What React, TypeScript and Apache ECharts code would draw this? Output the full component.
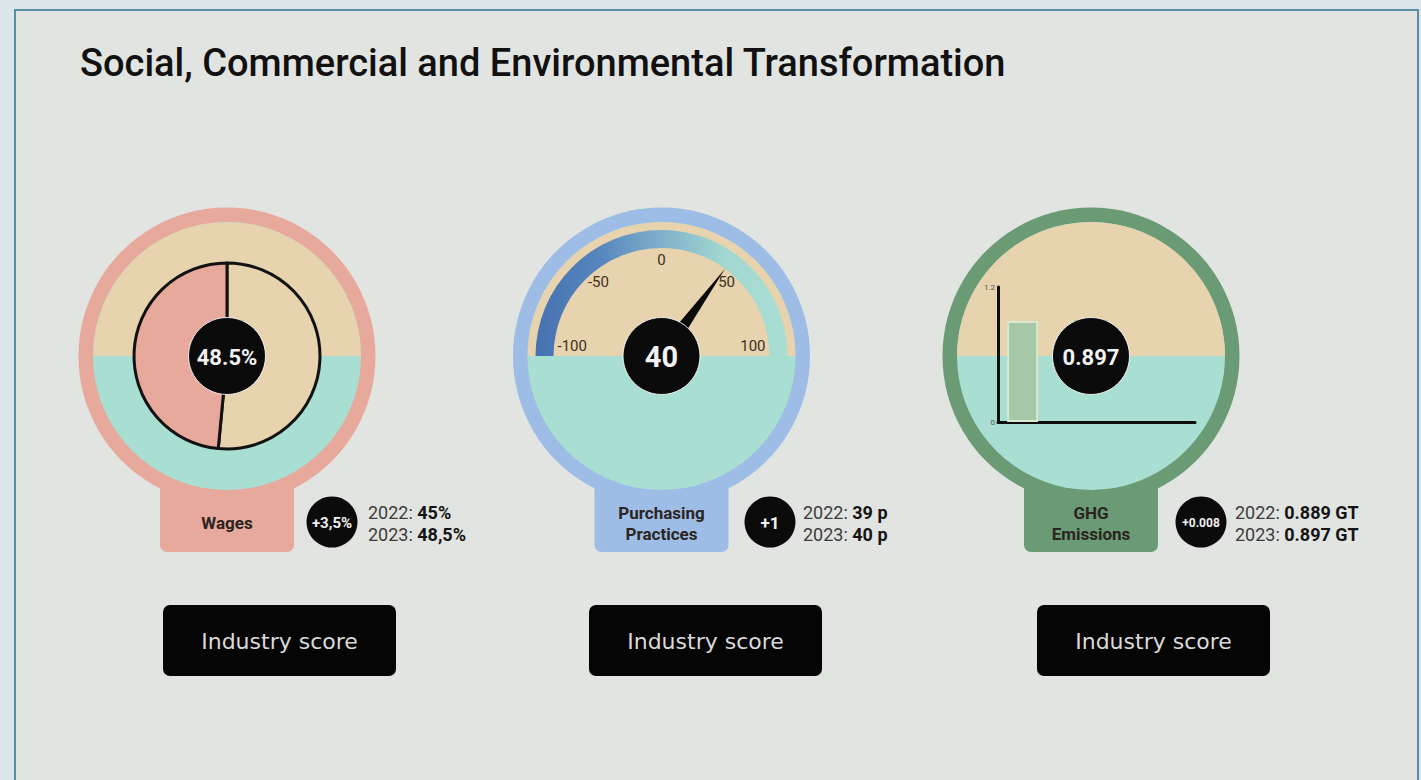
import React, { useEffect, useRef } from "react";
import * as echarts from "echarts";

// ---------- data ----------
const chartTitle = "Social, Commercial and Environmental Transformation";
const indicatorLabels = ["Wages", "Purchasing\nPractices", "GHG\nEmissions"];
const values2022 = [45, 39, 0.889];
const values2023 = [48.5, 40, 0.897];
const valueUnits = ["%", " p", " GT"];
const centerUnits = ["%", "", ""];
const decimalSeparators = [",", ".", "."];
const deltaDecimals = [1, 0, 3];
const yearLabels = ["2022", "2023"];
const gaugeMin = -100;
const gaugeMax = 100;
const gaugeSplits = 4; // ticks -100, -50, 0, 50, 100
const barCategories = ["2023", "", "", ""];
const barMin = 0;
const barMax = 1.2;
const buttonLabel = "Industry score";

// ---------- style ----------
const ringColors = ["#e6a99b", "#9dbde6", "#6b9b74"];
const tanColor = "#e7d3ad";
const mintColor = "#a9ded2";
const centersX = [227, 661.5, 1091];
const centerY = 356;
const deltaX = [332, 770, 1201];
const statsX = [368, 803, 1235];
const buttonX = [163, 589, 1037];

function fmt(v: number, sep: string, decimals?: number) {
  const s = decimals === undefined ? String(v) : v.toFixed(decimals);
  return s.replace(".", sep);
}

export default function App() {
  const ref = useRef<HTMLDivElement>(null);
  useEffect(() => {
    if (!ref.current) return;
    const chart = echarts.init(ref.current, null, { renderer: "svg" });

    const graphics: any[] = [];
    // card
    graphics.push({
      type: "rect",
      z: 0,
      shape: { x: 15, y: 10, width: 1403, height: 790 },
      style: { fill: "#e2e4e1", stroke: "#5b8ca2", lineWidth: 2 },
    });
    graphics.push({
      type: "text",
      z: 1,
      x: 80,
      y: 63,
      style: {
        text: chartTitle,
        fontSize: 38,
        fontWeight: 500,
        fontFamily: "Roboto",
        fill: "#111111",
        verticalAlign: "middle",
      },
    });

    for (let i = 0; i < 3; i++) {
      const cx = centersX[i];
      const ring = ringColors[i];
      graphics.push({
        type: "rect",
        z: 1,
        shape: { x: cx - 67, y: 470, width: 134, height: 82, r: [0, 0, 7, 7] },
        style: { fill: ring },
      });
      graphics.push({ type: "circle", z: 1, shape: { cx, cy: centerY, r: 148.5 }, style: { fill: ring } });
      graphics.push({ type: "circle", z: 1, shape: { cx, cy: centerY, r: 134 }, style: { fill: mintColor } });
      graphics.push({
        type: "sector",
        z: 1,
        shape: { cx, cy: centerY, r: 134, r0: 0, startAngle: Math.PI, endAngle: Math.PI * 2 },
        style: { fill: tanColor },
      });
      graphics.push({
        type: "text",
        z: 1,
        x: cx,
        y: 523,
        style: {
          text: indicatorLabels[i],
          fontSize: 17,
          fontWeight: "bold",
          fontFamily: "Roboto",
          fill: "#2b2521",
          align: "center",
          verticalAlign: "middle",
          lineHeight: 21,
        },
      });
      // center badge
      graphics.push({
        type: "circle",
        z: 20,
        shape: { cx, cy: centerY, r: 38.5 },
        style: { fill: "#0b0b0b", stroke: "rgba(255,255,255,0.85)", lineWidth: 1 },
      });
      graphics.push({
        type: "text",
        z: 21,
        x: cx,
        y: centerY + 1,
        style: {
          text: String(values2023[i]) + centerUnits[i],
          fontSize: i === 1 ? 29 : 22,
          fontWeight: "bold",
          fontFamily: "Roboto",
          fill: "#f2f2f2",
          align: "center",
          verticalAlign: "middle",
        },
      });
      // delta badge
      const delta = values2023[i] - values2022[i];
      const deltaText =
        "+" + fmt(Number(delta.toFixed(deltaDecimals[i])), decimalSeparators[i], deltaDecimals[i]) + (i === 0 ? "%" : "");
      graphics.push({
        type: "circle",
        z: 1,
        shape: { cx: deltaX[i], cy: 522, r: 25.5 },
        style: { fill: "#0b0b0b" },
      });
      graphics.push({
        type: "text",
        z: 2,
        x: deltaX[i],
        y: 523,
        style: {
          text: deltaText,
          fontSize: i === 0 ? 15 : i === 1 ? 17 : 12,
          fontWeight: "bold",
          fontFamily: "Roboto",
          fill: "#f0f0f0",
          align: "center",
          verticalAlign: "middle",
        },
      });
      // stats (one text per year line)
      for (let k = 0; k < 2; k++) {
        const v = k === 0 ? values2022[i] : values2023[i];
        graphics.push({
          type: "text",
          z: 2,
          x: statsX[i],
          y: k === 0 ? 512 : 534,
          style: {
            text: `{l|${yearLabels[k]}: }{b|${fmt(v, decimalSeparators[i])}${valueUnits[i]}}`,
            verticalAlign: "middle",
            align: "left",
            rich: {
              l: { fontSize: 18, fontFamily: "Roboto", fill: "#3c3c3c", color: "#3c3c3c" },
              b: { fontSize: 18, fontFamily: "Roboto", fontWeight: "bold", fill: "#141414", color: "#141414" },
            },
          },
        });
      }
      // button
      graphics.push({
        type: "rect",
        z: 1,
        shape: { x: buttonX[i], y: 605, width: 233, height: 71, r: 7 },
        style: { fill: "#050505" },
      });
      graphics.push({
        type: "text",
        z: 2,
        x: buttonX[i] + 116.5,
        y: 641,
        style: {
          text: buttonLabel,
          fontSize: 22,
          fontFamily: "DejaVu Sans",
          fill: "#dadada",
          align: "center",
          verticalAlign: "middle",
        },
      });
    }

    const option: any = {
      animation: false,
      backgroundColor: "#dbe6ea",
      graphic: { elements: graphics },
      grid: [{ left: 998, top: 287, width: 197, height: 135, containLabel: false }],
      xAxis: [
        {
          type: "category",
          gridIndex: 0,
          data: barCategories,
          z: 5,
          axisLine: { show: true, onZero: false, lineStyle: { color: "#0d0d0d", width: 3 } },
          axisTick: { show: false },
          axisLabel: { show: false },
          splitLine: { show: false },
        },
      ],
      yAxis: [
        {
          type: "value",
          gridIndex: 0,
          min: barMin,
          max: barMax,
          interval: barMax - barMin,
          z: 5,
          axisLine: { show: true, lineStyle: { color: "#0d0d0d", width: 3 } },
          axisTick: { show: false },
          splitLine: { show: false },
          axisLabel: { fontSize: 8, color: "#555", margin: 3, fontFamily: "Roboto" },
        },
      ],
      series: [
        {
          type: "pie",
          z: 5,
          silent: true,
          center: [centersX[0], centerY],
          radius: [0, 93],
          startAngle: 90,
          clockwise: true,
          label: { show: false },
          labelLine: { show: false },
          itemStyle: { borderColor: "#121212", borderWidth: 3 },
          data: [
            { value: 100 - values2023[0], itemStyle: { color: tanColor } },
            { value: values2023[0], itemStyle: { color: ringColors[0] } },
          ],
        },
        {
          type: "gauge",
          z: 5,
          silent: true,
          center: [centersX[1], centerY],
          radius: 126,
          startAngle: 180,
          endAngle: 0,
          min: gaugeMin,
          max: gaugeMax,
          splitNumber: gaugeSplits,
          axisLine: {
            lineStyle: {
              width: 18,
              color: [
                [
                  1,
                  new echarts.graphic.LinearGradient(0, 0, 1, 0, [
                    { offset: 0, color: "#4672b0" },
                    { offset: 0.25, color: "#5685bd" },
                    { offset: 0.5, color: "#7fb0cb" },
                    { offset: 0.75, color: "#a2d8d1" },
                    { offset: 1, color: "#a9ded3" },
                  ]),
                ],
              ],
            },
          },
          axisTick: { show: false },
          splitLine: { show: false, length: 0, distance: 0 },
          axisLabel: {
            distance: 22,
            fontSize: 15,
            color: "#3a3024",
            fontFamily: "Roboto",
            formatter: (v: number) => (v === gaugeMin || v === gaugeMax ? `{e|${v}}` : `{m|${v}}`),
            rich: {
              e: { fontSize: 15, color: "#3a3024", fontFamily: "Roboto", padding: [0, 0, 20, 0] },
              m: { fontSize: 15, color: "#3a3024", fontFamily: "Roboto" },
            },
          },
          pointer: { show: true, icon: "triangle", length: 108, width: 16, offsetCenter: [0, 0], itemStyle: { color: "#0a0a0a" } },
          anchor: { show: false },
          title: { show: false },
          detail: { show: false },
          progress: { show: false },
          data: [{ value: values2023[1] }],
        },
        {
          type: "bar",
          z: 5,
          silent: true,
          xAxisIndex: 0,
          yAxisIndex: 0,
          barWidth: 31,
          itemStyle: { color: "#a6c8a7", borderColor: "#d8e8d2", borderWidth: 2 },
          data: [values2023[2], null, null, null],
        },
      ],
    };
    chart.setOption(option);
    return () => chart.dispose();
  }, []);
  return <div ref={ref} style={{ position: "fixed", left: 0, top: 0, width: 1421, height: 780 }} />;
}
